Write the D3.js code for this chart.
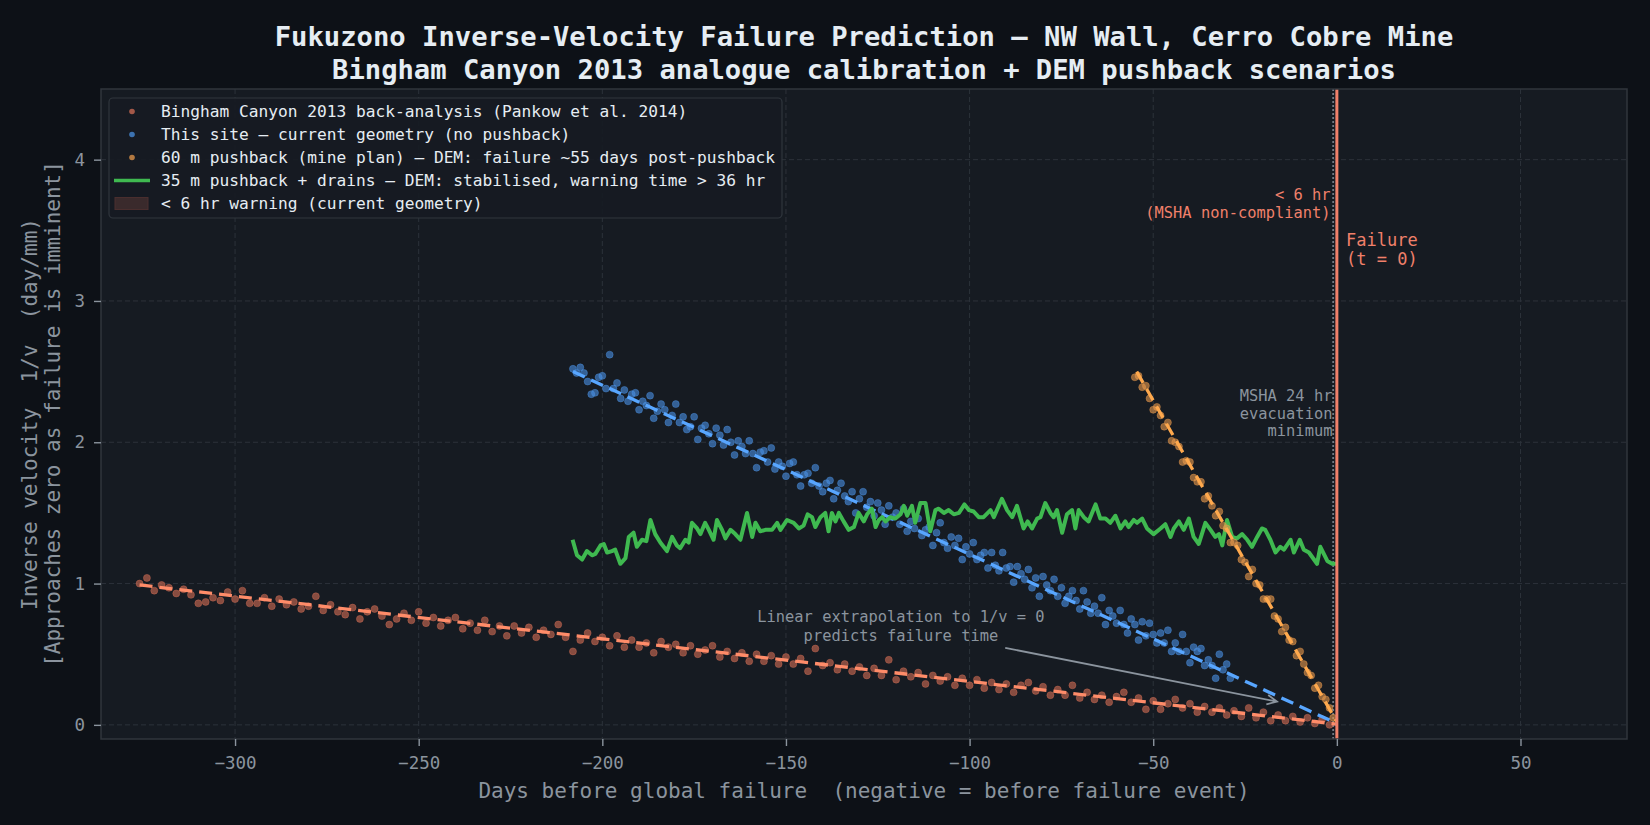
<!DOCTYPE html>
<html>
<head>
<meta charset="utf-8">
<script src="https://cdn.jsdelivr.net/npm/d3@7"></script>
<style>
  body { margin: 0; background: #0d1117; }
  svg { display: block; font-family: "DejaVu Sans Mono", monospace; }
</style>
</head>
<body>
<svg width="1650" height="825"></svg>
<script>
// ---- data ----
// Bingham Canyon 2013 back-analysis (days before failure, 1/v in day/mm)
const binghamDays = [-326,-324,-322,-320,-318,-316,-314,-312,-310,-308,-306,-304,-302,-300,-298,-296,-294,-292,-290,-288,
  -286,-284,-282,-280,-278,-276,-274,-272,-270,-268,-266,-264,-262,-260,-258,-256,-254,-252,-250,-248,
  -246,-244,-242,-240,-238,-236,-234,-232,-230,-228,-226,-224,-222,-220,-218,-216,-214,-212,-210,-208,
  -206,-204,-202,-200,-198,-196,-194,-192,-190,-188,-186,-184,-182,-180,-178,-176,-174,-172,-170,-168,
  -166,-164,-162,-160,-158,-156,-154,-152,-150,-148,-146,-144,-142,-140,-138,-136,-134,-132,-130,-128,
  -126,-124,-122,-120,-118,-116,-114,-112,-110,-108,-106,-104,-102,-100,-98,-96,-94,-92,-90,-88,
  -86,-84,-82,-80,-78,-76,-74,-72,-70,-68,-66,-64,-62,-60,-58,-56,-54,-52,-50,-48,
  -46,-44,-42,-40,-38,-36,-34,-32,-30,-28,-26,-24,-22,-20,-18,-16,-14,-12,-10,-8,-6,-4,-2]
const binghamInvV = [1.00,1.04,0.95,0.99,0.97,0.93,0.96,0.92,0.86,0.87,0.90,0.88,0.94,0.89,0.95,0.86,0.86,0.90,0.84,0.89,
  0.85,0.87,0.82,0.84,0.91,0.81,0.85,0.80,0.78,0.83,0.75,0.80,0.82,0.77,0.71,0.75,0.79,0.74,0.80,0.72,
  0.76,0.70,0.74,0.76,0.68,0.72,0.67,0.74,0.66,0.70,0.63,0.70,0.65,0.69,0.62,0.67,0.64,0.71,0.62,0.52,
  0.60,0.65,0.59,0.62,0.56,0.63,0.55,0.60,0.55,0.58,0.51,0.59,0.55,0.57,0.51,0.56,0.50,0.53,0.56,0.48,
  0.52,0.47,0.51,0.45,0.50,0.45,0.49,0.43,0.48,0.43,0.47,0.38,0.54,0.42,0.44,0.39,0.43,0.38,0.41,0.35,
  0.40,0.35,0.46,0.32,0.38,0.34,0.37,0.29,0.35,0.31,0.34,0.28,0.33,0.28,0.32,0.26,0.30,0.25,0.29,0.23,
  0.28,0.30,0.24,0.27,0.21,0.25,0.21,0.28,0.19,0.23,0.18,0.21,0.16,0.20,0.23,0.16,0.19,0.11,0.17,0.11,
  0.15,0.18,0.12,0.15,0.09,0.13,0.09,0.12,0.07,0.10,0.06,0.12,0.05,0.09,0.03,0.07,0.03,0.06,0.02,0.05,0.01,0.04,0.00]
const binghamFitDays = [-326, 0]
const binghamFitInvV = [0.99, 0.005]

// this site, current geometry
const siteDays = [-208,-207,-206,-205,-204,-203,-202,-201,-200,-199,-198,-197,-196,-195,-194,-193,-192,-191,-190,-189,
  -188,-187,-186,-185,-184,-183,-182,-181,-180,-179,-178,-177,-176,-175,-174,-173,-172,-171,-170,-169,
  -168,-167,-166,-165,-164,-163,-162,-161,-160,-159,-158,-157,-156,-155,-154,-153,-152,-151,-150,-149,
  -148,-147,-146,-145,-144,-143,-142,-141,-140,-139,-138,-137,-136,-135,-134,-133,-132,-131,-130,-129,
  -128,-127,-126,-125,-124,-123,-122,-121,-120,-119,-118,-117,-116,-115,-114,-113,-112,-111,-110,-109,
  -108,-107,-106,-105,-104,-103,-102,-101,-100,-99,-98,-97,-96,-95,-94,-93,-92,-91,-90,-89,
  -88,-87,-86,-85,-84,-83,-82,-81,-80,-79,-78,-77,-76,-75,-74,-73,-72,-71,-70,-69,
  -68,-67,-66,-65,-64,-63,-62,-61,-60,-59,-58,-57,-56,-55,-54,-53,-52,-51,-50,-49,
  -48,-47,-46,-45,-44,-43,-42,-41,-40,-39,-38,-37,-36,-35,-34,-33,-32,-31,-30,-29]
const siteInvV = [2.52,2.49,2.53,2.49,2.43,2.34,2.35,2.46,2.47,2.38,2.62,2.38,2.42,2.31,2.37,2.29,2.34,2.35,2.23,2.29,
  2.26,2.33,2.17,2.22,2.27,2.23,2.14,2.19,2.27,2.14,2.18,2.09,2.11,2.18,2.02,2.10,2.12,2.06,1.99,2.10,
  2.05,1.98,2.09,2.00,1.91,2.01,1.97,1.92,2.01,1.92,1.82,1.93,1.94,1.86,1.96,1.81,1.86,1.83,1.76,1.85,
  1.86,1.77,1.69,1.77,1.78,1.71,1.82,1.69,1.65,1.71,1.73,1.60,1.66,1.71,1.62,1.58,1.65,1.50,1.60,1.65,
  1.54,1.58,1.48,1.57,1.52,1.42,1.55,1.47,1.50,1.42,1.53,1.37,1.44,1.39,1.46,1.34,1.38,1.40,1.27,1.36,
  1.43,1.29,1.25,1.33,1.27,1.32,1.17,1.26,1.21,1.29,1.17,1.20,1.22,1.11,1.22,1.13,1.09,1.22,1.11,1.12,
  1.01,1.12,1.07,1.03,1.10,0.97,1.04,0.91,1.05,0.99,0.95,1.03,0.91,0.97,0.86,0.91,0.95,0.88,0.82,0.95,
  0.87,0.79,0.84,0.79,0.90,0.71,0.81,0.77,0.72,0.81,0.71,0.65,0.75,0.71,0.60,0.73,0.63,0.72,0.64,0.58,
  0.65,0.58,0.67,0.52,0.58,0.52,0.64,0.52,0.44,0.55,0.52,0.54,0.42,0.46,0.42,0.33,0.50,0.39,0.43,0.33]
const siteFitDays = [-208, 0]
const siteFitInvV = [2.50, 0.01]

// 60 m pushback (mine plan)
const push60Days = [-55,-54,-53,-52,-51,-50,-49,-48,-47,-46,-45,-44,-43,-42,-41,-40,-39,-38,-37,-36,
  -35,-34,-33,-32,-31,-30,-29,-28,-27,-26,-25,-24,-23,-22,-21,-20,-19,-18,-17,-16,
  -15,-14,-13,-12,-11,-10,-9,-8,-7,-6,-5,-4,-3,-2,-1]
const push60InvV = [2.46,2.47,2.39,2.40,2.31,2.23,2.25,2.19,2.11,2.14,2.01,2.00,1.97,1.86,1.87,1.86,1.75,1.72,1.72,1.60,
  1.62,1.55,1.48,1.51,1.41,1.39,1.29,1.29,1.27,1.17,1.15,1.05,1.10,1.00,0.99,0.89,0.89,0.89,0.77,0.75,
  0.66,0.69,0.60,0.59,0.49,0.52,0.43,0.37,0.35,0.26,0.28,0.20,0.18,0.12,0.05]
const push60FitDays = [-54.5, 0]
const push60FitInvV = [2.50, 0.02]

// 35 m pushback + drains (stabilised)
const push35Days = [-208.1,-206.9,-205.5,-204.2,-202.8,-201.9,-200.5,-199.6,-198.7,-197.4,-196.5,-195.1,-193.7,-192.8,-191.5,-190.6,-189.2,-188.0,-186.9,-185.6,
  -184.2,-182.4,-181.0,-179.7,-178.8,-177.4,-176.5,-175.6,-174.2,-173.3,-172.0,-171.0,-169.7,-168.8,-167.4,-166.5,-165.1,-163.8,-162.4,-160.6,
  -159.2,-158.3,-157.0,-155.6,-153.8,-152.4,-151.5,-149.7,-147.9,-146.5,-145.2,-144.1,-142.9,-142.0,-140.6,-139.3,-138.4,-137.5,-136.5,-135.6,
  -134.3,-132.9,-131.5,-130.2,-128.8,-127.9,-126.6,-125.6,-124.7,-123.8,-122.9,-121.6,-120.2,-118.8,-117.9,-117.0,-115.7,-114.8,-113.4,-112.0,
  -110.7,-109.3,-108.4,-107.0,-105.7,-104.3,-102.9,-101.4,-100.2,-98.9,-97.5,-96.2,-94.3,-93.4,-91.2,-89.8,-88.4,-87.1,-85.3,-84.2,
  -83.0,-81.6,-80.7,-79.4,-78.0,-77.1,-76.2,-74.8,-73.5,-72.1,-71.2,-70.3,-68.9,-67.6,-65.7,-64.4,-63.0,-61.7,-60.3,-58.9,
  -57.6,-56.7,-55.3,-54.4,-53.0,-51.7,-49.9,-48.0,-46.7,-45.3,-44.4,-43.0,-41.7,-40.3,-39.0,-37.6,-35.8,-34.4,-33.1,-32.1,
  -31.2,-29.9,-28.5,-27.2,-25.8,-24.4,-23.1,-21.7,-20.4,-19.5,-18.1,-16.7,-15.4,-14.4,-12.6,-11.7,-10.1,-9.0,-7.6,-5.4,
  -4.5,-2.6,-1.3,0]
const push35InvV = [1.31,1.20,1.17,1.23,1.20,1.21,1.27,1.28,1.22,1.23,1.24,1.14,1.18,1.33,1.36,1.26,1.31,1.30,1.45,1.35,
  1.29,1.23,1.33,1.27,1.25,1.31,1.29,1.43,1.39,1.35,1.43,1.38,1.31,1.45,1.38,1.32,1.38,1.35,1.31,1.50,
  1.33,1.43,1.37,1.38,1.38,1.43,1.38,1.45,1.43,1.39,1.41,1.49,1.47,1.40,1.47,1.50,1.37,1.50,1.44,1.50,
  1.44,1.38,1.40,1.50,1.44,1.49,1.53,1.40,1.45,1.47,1.44,1.47,1.46,1.49,1.55,1.48,1.55,1.43,1.57,1.57,
  1.37,1.52,1.53,1.50,1.52,1.49,1.50,1.56,1.52,1.51,1.47,1.47,1.52,1.47,1.60,1.52,1.47,1.55,1.39,1.44,
  1.39,1.46,1.47,1.57,1.50,1.47,1.52,1.36,1.49,1.52,1.39,1.52,1.47,1.44,1.56,1.46,1.46,1.43,1.48,1.39,
  1.44,1.40,1.45,1.43,1.46,1.39,1.35,1.39,1.42,1.33,1.39,1.44,1.38,1.46,1.33,1.28,1.43,1.38,1.33,1.35,
  1.27,1.45,1.33,1.32,1.35,1.31,1.26,1.33,1.39,1.38,1.31,1.22,1.26,1.24,1.31,1.22,1.31,1.24,1.22,1.14,
  1.26,1.16,1.14,1.14]

const xTicks = [-300, -250, -200, -150, -100, -50, 0, 50]
const yTicks = [0, 1, 2, 3, 4]

const legendLabels = [
  'Bingham Canyon 2013 back-analysis (Pankow et al. 2014)',
  'This site \u2014 current geometry (no pushback)',
  '60 m pushback (mine plan) \u2014 DEM: failure ~55 days post-pushback',
  '35 m pushback + drains \u2014 DEM: stabilised, warning time > 36 hr',
  '< 6 hr warning (current geometry)'
]

// ---- colours ----
const bg = '#0d1117'
const panel = '#161b22'
const edge = '#30363d'
const muted = '#8b949e'
const bright = '#e6edf3'
const coral = '#f0806a'

const svg = d3.select('svg')
svg.append('rect').attr('width', 1650).attr('height', 825).attr('fill', bg)

const x = d3.scaleLinear().domain([-336.5, 79]).range([101, 1627])
const y = d3.scaleLinear().domain([-0.1, 4.5]).range([739, 89])

svg.append('rect')
  .attr('x', x.range()[0]).attr('y', y.range()[1])
  .attr('width', x.range()[1] - x.range()[0])
  .attr('height', y.range()[0] - y.range()[1])
  .attr('fill', panel)

svg.append('clipPath').attr('id', 'plot')
  .append('rect')
  .attr('x', 101).attr('y', 89).attr('width', 1526).attr('height', 650)

// grid
const grid = svg.append('g')
grid.selectAll('line.gx').data(xTicks).enter().append('line')
  .attr('x1', d => x(d)).attr('x2', d => x(d))
  .attr('y1', 89).attr('y2', 739)
  .attr('stroke', '#2c323a').attr('stroke-width', 1).attr('stroke-dasharray', '5,3')
grid.selectAll('line.gy').data(yTicks).enter().append('line')
  .attr('y1', d => y(d)).attr('y2', d => y(d))
  .attr('x1', 101).attr('x2', 1627)
  .attr('stroke', '#2c323a').attr('stroke-width', 1).attr('stroke-dasharray', '5,3')

const plot = svg.append('g').attr('clip-path', 'url(#plot)')

// < 6 hr span and reference lines
plot.append('rect')
  .attr('x', x(-0.25)).attr('width', x(0) - x(-0.25))
  .attr('y', 89).attr('height', 650)
  .attr('fill', coral).attr('opacity', 0.15)

plot.append('line')
  .attr('x1', x(-1)).attr('x2', x(-1)).attr('y1', 89).attr('y2', 739)
  .attr('stroke', muted).attr('stroke-width', 1.8).attr('stroke-dasharray', '2,2').attr('opacity', 0.8)

const line = d3.line().x(d => x(d[0])).y(d => y(d[1]))

function dots (days, vals, colour) {
  plot.append('g').selectAll('circle')
    .data(d3.zip(days, vals))
    .enter().append('circle')
    .attr('cx', d => x(d[0])).attr('cy', d => y(d[1]))
    .attr('r', 3.5)
    .attr('fill', colour).attr('fill-opacity', 0.6)
    .attr('stroke', colour).attr('stroke-opacity', 0.5).attr('stroke-width', 0.8)
}

function fit (days, vals, colour) {
  plot.append('path')
    .attr('d', line(d3.zip(days, vals)))
    .attr('fill', 'none').attr('stroke', colour)
    .attr('stroke-width', 3.3).attr('stroke-dasharray', '13,7')
}

dots(binghamDays, binghamInvV, '#d36e55')
fit(binghamFitDays, binghamFitInvV, '#ff8c69')

dots(siteDays, siteInvV, '#4a90e2')
fit(siteFitDays, siteFitInvV, '#58a6ff')

plot.append('path')
  .attr('d', line(d3.zip(push35Days, push35InvV)))
  .attr('fill', 'none').attr('stroke', '#3fb950')
  .attr('stroke-width', 4).attr('stroke-linejoin', 'round')

dots(push60Days, push60InvV, '#e8994c')
fit(push60FitDays, push60FitInvV, '#ffa94d')

// failure line
plot.append('line')
  .attr('x1', x(0)).attr('x2', x(0)).attr('y1', 89).attr('y2', 739)
  .attr('stroke', coral).attr('stroke-width', 3)

// spines
svg.append('rect')
  .attr('x', 101).attr('y', 89).attr('width', 1526).attr('height', 650)
  .attr('fill', 'none').attr('stroke', edge).attr('stroke-width', 1.5)

// axes
const xAxis = svg.append('g')
  .attr('transform', 'translate(0,739)')
  .call(d3.axisBottom(x).tickValues(xTicks).tickSize(7).tickPadding(11))
const yAxis = svg.append('g')
  .attr('transform', 'translate(101,0)')
  .call(d3.axisLeft(y).tickValues(yTicks).tickFormat(d3.format('d')).tickSize(7).tickPadding(9))

;[xAxis, yAxis].forEach(a => {
  a.select('.domain').remove()
  a.selectAll('.tick line').attr('stroke', muted).attr('stroke-width', 1.4)
  a.selectAll('.tick text')
    .attr('fill', muted)
    .style('font-family', '"DejaVu Sans Mono", monospace')
    .style('font-size', '17.5px')
})

// axis labels
svg.append('text')
  .attr('x', 864).attr('y', 798)
  .attr('text-anchor', 'middle')
  .attr('fill', muted).style('font-size', '21px')
  .attr('xml:space', 'preserve')
  .text('Days before global failure  (negative = before failure event)')

const yLab = svg.append('text')
  .attr('transform', 'translate(37,414) rotate(-90)')
  .attr('text-anchor', 'middle')
  .attr('fill', muted).style('font-size', '21px')
  .attr('xml:space', 'preserve')
yLab.append('tspan').attr('x', 0).attr('y', 0).text('Inverse velocity  1/v  (day/mm)')
yLab.append('tspan').attr('x', 0).attr('y', 23).text('[Approaches zero as failure is imminent]')

// title
const title = svg.append('text')
  .attr('text-anchor', 'middle')
  .attr('fill', bright)
  .style('font-size', '27.2px').style('font-weight', 'bold')
title.append('tspan').attr('x', 864).attr('y', 46)
  .text('Fukuzono Inverse-Velocity Failure Prediction \u2014 NW Wall, Cerro Cobre Mine')
title.append('tspan').attr('x', 864).attr('y', 79)
  .text('Bingham Canyon 2013 analogue calibration + DEM pushback scenarios')

// annotations
function note (lines, px, py, anchor, colour, size, step) {
  const t = svg.append('text')
    .attr('text-anchor', anchor)
    .attr('fill', colour)
    .style('font-size', size + 'px')
  lines.forEach((s, i) => {
    t.append('tspan').attr('x', px).attr('y', py + i * step).attr('dy', '0.35em').text(s)
  })
}

note(['< 6 hr', '(MSHA non-compliant)'], x(-1.7), 195, 'end', coral, 15.4, 18)
note(['Failure', '(t = 0)'], x(2.5), 240, 'start', coral, 17, 19.5)
note(['MSHA 24 hr', 'evacuation', 'minimum'], x(-1.2), 396, 'end', muted, 15.4, 17.2)
note(['Linear extrapolation to 1/v = 0', 'predicts failure time'], x(-118.7), 617, 'middle', muted, 15.4, 19)

// arrow
const a0 = [x(-90.3), y(0.545)]
const a1 = [x(-16.3), y(0.165)]
const ang = Math.atan2(a1[1] - a0[1], a1[0] - a0[0])
const head = 11
svg.append('path')
  .attr('d', `M${a0[0]},${a0[1]}L${a1[0]},${a1[1]}` +
    `M${a1[0] - head * Math.cos(ang - 0.45)},${a1[1] - head * Math.sin(ang - 0.45)}` +
    `L${a1[0]},${a1[1]}` +
    `L${a1[0] - head * Math.cos(ang + 0.45)},${a1[1] - head * Math.sin(ang + 0.45)}`)
  .attr('fill', 'none').attr('stroke', muted).attr('stroke-width', 1.8)

// legend
const lg = svg.append('g')
lg.append('rect')
  .attr('x', 109).attr('y', 98).attr('width', 673).attr('height', 120).attr('rx', 4)
  .attr('fill', panel).attr('fill-opacity', 0.9)
  .attr('stroke', edge).attr('stroke-width', 1.2)

const rowY = i => 111.5 + i * 23
const dotColours = ['#d36e55', '#4a90e2', '#e8994c']
dotColours.forEach((c, i) => {
  lg.append('circle').attr('cx', 132).attr('cy', rowY(i)).attr('r', 2.8)
    .attr('fill', c).attr('fill-opacity', 0.75)
})
lg.append('line')
  .attr('x1', 114).attr('x2', 150).attr('y1', rowY(3)).attr('y2', rowY(3))
  .attr('stroke', '#3fb950').attr('stroke-width', 3.5)
lg.append('rect')
  .attr('x', 115).attr('y', rowY(4) - 6).attr('width', 33).attr('height', 12)
  .attr('fill', '#3a2a2c').attr('stroke', '#4a2e2e').attr('stroke-width', 1)

lg.selectAll('text.lab').data(legendLabels).enter().append('text')
  .attr('x', 161).attr('y', (d, i) => rowY(i)).attr('dy', '0.35em')
  .attr('fill', bright).style('font-size', '16.2px')
  .text(d => d)
</script>
</body>
</html>
